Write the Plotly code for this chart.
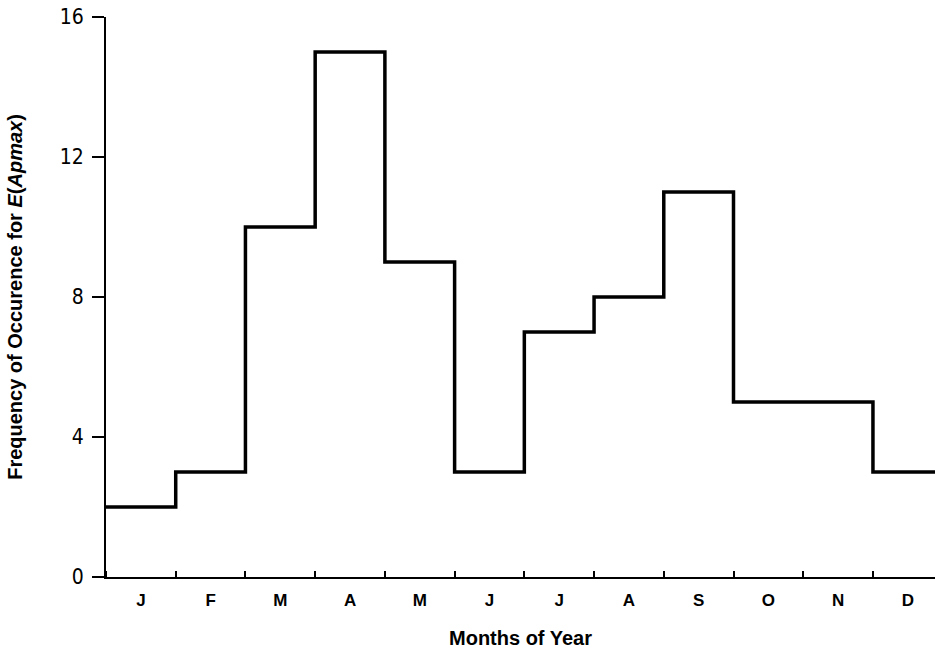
import plotly.graph_objects as go

# Monthly frequency counts (Jan..Dec)
months = ["J", "F", "M", "A", "M", "J", "J", "A", "S", "O", "N", "D"]
counts = [2, 3, 10, 15, 9, 3, 7, 8, 11, 5, 5, 3]
y_ticks = [0, 4, 8, 12, 16]

# Step outline: each month occupies one unit interval [i, i+1]
edges = list(range(len(months) + 1))
step_y = counts + [counts[-1]]
centers = [i + 0.5 for i in range(len(months))]

fig = go.Figure()
fig.add_trace(go.Scatter(
    x=edges, y=step_y, mode="lines",
    line=dict(shape="hv", color="black", width=3.5),
    hoverinfo="skip", showlegend=False,
))

fig.update_layout(
    width=935, height=657,
    margin=dict(l=106, r=0, t=17, b=80),
    paper_bgcolor="white", plot_bgcolor="white",
    xaxis=dict(
        range=[0, 11.89], showgrid=False, zeroline=False,
        showline=True, linecolor="black", linewidth=2,
        tickmode="array", tickvals=centers, ticktext=months,
        ticks="", ticklabelstandoff=7,
        tickfont=dict(family="Liberation Sans, Arial", size=17, color="black", weight="bold"),
        minor=dict(tickmode="linear", tick0=0, dtick=1, ticks="inside",
                   ticklen=6, tickwidth=2, tickcolor="black", showgrid=False),
        title=dict(text="<b>Months of Year</b>", standoff=22,
                   font=dict(family="Liberation Sans, Arial", size=20, color="black")),
    ),
    yaxis=dict(
        range=[0, 16], showgrid=False, zeroline=False,
        showline=True, linecolor="black", linewidth=2,
        tickmode="array", tickvals=y_ticks,
        ticks="outside", ticklen=12, tickwidth=1.5, tickcolor="black",
        ticklabelstandoff=4,
        tickfont=dict(family="Liberation Sans Narrow, Arial Narrow, DejaVu Sans Condensed", size=21, color="black"),
        title=dict(text="<b>Frequency of Occurence for <i>E</i>(<i>Apmax</i>)</b>", standoff=32,
                   font=dict(family="Liberation Sans, Arial", size=20, color="black")),
    ),
)

fig.write_html("out.html")
